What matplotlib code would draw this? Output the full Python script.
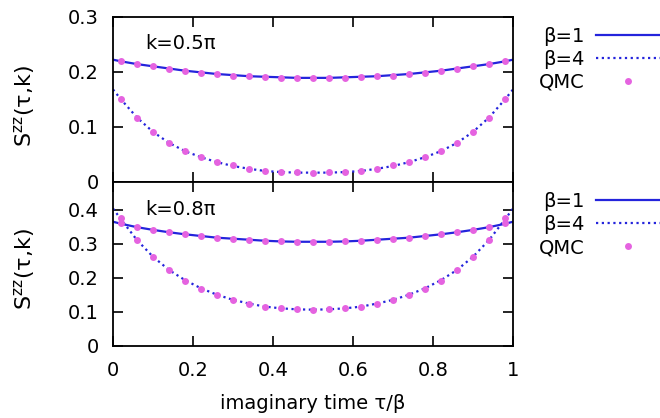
import matplotlib
matplotlib.use("Agg")
import matplotlib.pyplot as plt

plt.rcParams["font.family"] = ["DejaVu Sans"]
plt.rcParams["mathtext.default"] = "regular"

# QMC sample positions (tau/beta)
tau = [0.02, 0.06, 0.10, 0.14, 0.18, 0.22, 0.26, 0.30, 0.34, 0.38, 0.42, 0.46, 0.50,
       0.54, 0.58, 0.62, 0.66, 0.70, 0.74, 0.78, 0.82, 0.86, 0.90, 0.94, 0.98]
# theory curves: same grid plus the end points
tau_line = [0.0] + tau + [1.0]

# k = 0.5 pi
qmc_b1_k05 = [0.219, 0.214, 0.210, 0.205, 0.202, 0.198, 0.196, 0.193, 0.192, 0.190, 0.189, 0.189, 0.189,
              0.189, 0.189, 0.190, 0.192, 0.193, 0.196, 0.198, 0.202, 0.205, 0.210, 0.214, 0.219]
qmc_b4_k05 = [0.151, 0.116, 0.090, 0.071, 0.056, 0.045, 0.036, 0.030, 0.023, 0.020, 0.018, 0.018, 0.017,
              0.018, 0.018, 0.020, 0.023, 0.030, 0.036, 0.045, 0.056, 0.071, 0.090, 0.116, 0.151]
line_b1_k05 = [0.222, 0.219, 0.214, 0.210, 0.206, 0.202, 0.199, 0.196, 0.194, 0.192, 0.191, 0.190, 0.189, 0.189,
               0.189, 0.190, 0.191, 0.192, 0.194, 0.196, 0.199, 0.202, 0.206, 0.210, 0.214, 0.219, 0.222]
line_b4_k05 = [0.168, 0.150, 0.117, 0.091, 0.071, 0.056, 0.045, 0.036, 0.029, 0.024, 0.020, 0.018, 0.017, 0.017,
               0.017, 0.018, 0.020, 0.024, 0.029, 0.036, 0.045, 0.056, 0.071, 0.091, 0.117, 0.150, 0.168]

# k = 0.8 pi
qmc_b1_k08 = [0.362, 0.350, 0.342, 0.335, 0.328, 0.323, 0.318, 0.315, 0.312, 0.309, 0.307, 0.306, 0.306,
              0.306, 0.307, 0.309, 0.312, 0.315, 0.318, 0.323, 0.328, 0.335, 0.342, 0.350, 0.362]
qmc_b4_k08 = [0.375, 0.310, 0.260, 0.222, 0.191, 0.168, 0.149, 0.134, 0.123, 0.114, 0.110, 0.107, 0.106,
              0.107, 0.110, 0.114, 0.123, 0.134, 0.149, 0.168, 0.191, 0.222, 0.260, 0.310, 0.375]
line_b1_k08 = [0.365, 0.359, 0.349, 0.341, 0.334, 0.328, 0.323, 0.318, 0.315, 0.312, 0.309, 0.307, 0.306, 0.306,
               0.306, 0.307, 0.309, 0.312, 0.315, 0.318, 0.323, 0.328, 0.334, 0.341, 0.349, 0.359, 0.365]
line_b4_k08 = [0.404, 0.372, 0.311, 0.262, 0.223, 0.193, 0.169, 0.150, 0.135, 0.124, 0.115, 0.110, 0.107, 0.106,
               0.107, 0.110, 0.115, 0.124, 0.135, 0.150, 0.169, 0.193, 0.223, 0.262, 0.311, 0.372, 0.404]

panels = [
    ("k=0.5\u03c0", line_b1_k05, line_b4_k05, qmc_b1_k05, qmc_b4_k05, 0.3, [0, 0.1, 0.2, 0.3]),
    ("k=0.8\u03c0", line_b1_k08, line_b4_k08, qmc_b1_k08, qmc_b4_k08, 0.482, [0, 0.1, 0.2, 0.3, 0.4]),
]

BLUE = "#2424dc"
VIOLET = "#e563e0"
FS = 14

fig = plt.figure(figsize=(6.6, 4.18), dpi=100)
ax_top = fig.add_axes([0.1712, 0.5646, 0.6061, 0.3954])
ax_bot = fig.add_axes([0.1712, 0.1730, 0.6061, 0.3916])
legend_y = [0.935, 0.540]
label_y = [0.46, 0.47]

for ax, (label, b1, b4, q1, q4, ytop, yticks), ly, yl in zip([ax_top, ax_bot], panels, legend_y, label_y):
    ax.plot(tau_line, b1, color=BLUE, lw=1.6, label="\u03b2=1", zorder=2)
    ax.plot(tau_line, b4, color=BLUE, lw=1.6, ls=(0, (1, 1.6)), label="\u03b2=4", zorder=2)
    ax.plot(tau, q1, "o", color=VIOLET, ms=5, mec="none", label="QMC", zorder=3)
    ax.plot(tau, q4, "o", color=VIOLET, ms=5, mec="none", zorder=3)
    ax.set_xlim(0, 1)
    ax.set_ylim(0, ytop)
    ax.set_xticks([0, 0.2, 0.4, 0.6, 0.8, 1])
    ax.set_xticklabels(["0", "0.2", "0.4", "0.6", "0.8", "1"])
    ax.set_yticks(yticks)
    ax.set_yticklabels(["0" if v == 0 else f"{v:g}" for v in yticks])
    ax.tick_params(direction="in", length=7, width=1.2, top=True, right=True,
                   labelsize=FS, pad=11)
    ax.tick_params(axis="y", pad=10)
    for s in ax.spines.values():
        s.set_linewidth(1.3)
    ax.text(0.08, 0.835, label, transform=ax.transAxes, fontsize=FS, va="center", ha="left")
    ax.set_ylabel("S$^{zz}$(\u03c4,k)", fontsize=16)
    ax.yaxis.set_label_coords(-0.19, yl)
    fig.legend(handles=ax.get_lines()[:3], loc="upper right", bbox_to_anchor=(1.0, ly),
               frameon=False, markerfirst=False, fontsize=FS, handlelength=3.3,
               handletextpad=0.6, labelspacing=0.2, borderpad=0, borderaxespad=0,
               numpoints=1)

ax_top.tick_params(labelbottom=False)
fig.text(0.474, 0.034, "imaginary time \u03c4/\u03b2", fontsize=FS, ha="center", va="center")

fig.savefig("out.png", dpi=100)
